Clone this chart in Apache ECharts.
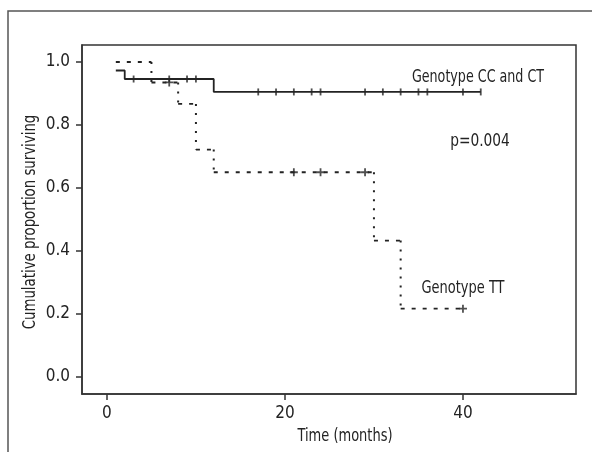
<!DOCTYPE html>
<html>
<head>
<meta charset="utf-8">
<script src="https://cdn.jsdelivr.net/npm/echarts@6/dist/echarts.min.js"></script>
<style>
  html, body { margin: 0; padding: 0; background: #fff; }
  #chart { width: 592px; height: 452px; }
</style>
</head>
<body>
<div id="chart"></div>
<script>
// ---- data ----
const xTicks = [0, 20, 40];
const yTicks = [0.0, 0.2, 0.4, 0.6, 0.8, 1.0];

// Genotype CC and CT (solid): step change points (time, survival)
const ccTimes = [1, 2, 12];
const ccSurv = [0.973, 0.946, 0.905];
const ccEnd = 42;
const ccCensored = [3, 7, 9, 10, 17, 19, 21, 23, 24, 29, 31, 33, 35, 36, 40, 42];

// Genotype TT (dashed): step change points (time, survival)
const ttTimes = [1, 5, 8, 10, 12, 30, 33];
const ttSurv = [1.0, 0.935, 0.867, 0.722, 0.65, 0.433, 0.217];
const ttEnd = 40;
const ttCensored = [7, 21, 24, 29, 40];

const labelCC = 'Genotype CC and CT';
const labelTT = 'Genotype TT';
const labelP = 'p=0.004';
const xTitle = 'Time (months)';
const yTitle = 'Cumulative proportion surviving';

// ---- helpers building series data from the arrays ----
function survAt(times, surv, t) {
  let v = surv[0];
  for (let i = 0; i < times.length; i++) if (times[i] <= t) v = surv[i];
  return v;
}
function stepPoints(times, surv, end) {
  const pts = times.map((t, i) => [t, surv[i]]);
  pts.push([end, surv[surv.length - 1]]);
  return pts;
}
function horizSegs(times, surv, end) {
  const out = [];
  for (let i = 0; i < times.length; i++) {
    const t1 = i + 1 < times.length ? times[i + 1] : end;
    out.push([times[i], surv[i]], [t1, surv[i]], [t1, '-']);
  }
  return out;
}
function vertSegs(times, surv) {
  const out = [];
  for (let i = 0; i + 1 < times.length; i++) {
    out.push([times[i + 1], surv[i]], [times[i + 1], surv[i + 1]], [times[i + 1], '-']);
  }
  return out;
}
function censorPts(list, times, surv) {
  return list.map(t => [t, survAt(times, surv, t)]);
}

const FONT = "'Liberation Sans Narrow', 'DejaVu Sans Condensed', 'Noto Sans', sans-serif";
const INK = '#232323';

const chart = echarts.init(document.getElementById('chart'), null, { renderer: 'canvas' });

function txt(text, x, y, sx, rot) {
  return {
    type: 'text', x: x, y: y, scaleX: sx, rotation: rot || 0,
    style: { text: text, font: '17px ' + FONT, fill: INK, textAlign: 'center', textVerticalAlign: 'middle' }
  };
}

chart.setOption({
  animation: false,
  backgroundColor: '#ffffff',
  textStyle: { fontFamily: FONT, color: INK },
  grid: {
    left: 82, right: 16, top: 45, bottom: 58,
    show: true, borderColor: '#333', borderWidth: 1.5, backgroundColor: 'transparent'
  },
  xAxis: {
    type: 'value', min: -2.8, max: 52.7,
    splitLine: { show: false },
    axisLine: { show: true, onZero: false, lineStyle: { color: '#333', width: 1.5 } },
    axisTick: { show: true, customValues: xTicks, length: 6, lineStyle: { color: '#333', width: 1.5 } },
    axisLabel: { customValues: xTicks, margin: 11, fontSize: 17, fontFamily: FONT, color: INK }
  },
  yAxis: {
    type: 'value', min: -0.054, max: 1.054,
    splitLine: { show: false },
    axisLine: { show: true, onZero: false, lineStyle: { color: '#333', width: 1.5 } },
    axisTick: { show: true, customValues: yTicks, length: 6, lineStyle: { color: '#333', width: 1.5 } },
    axisLabel: {
      customValues: yTicks, margin: 12, fontSize: 17, fontFamily: FONT, color: INK,
      formatter: v => Number(v).toFixed(1)
    }
  },
  series: [
    {
      name: labelCC, type: 'line', step: 'end', symbol: 'none',
      data: stepPoints(ccTimes, ccSurv, ccEnd),
      lineStyle: { color: INK, width: 1.8 }
    },
    {
      name: labelCC + ' censored', type: 'scatter', symbol: 'rect', symbolSize: [1.8, 7],
      data: censorPts(ccCensored, ccTimes, ccSurv),
      itemStyle: { color: INK }
    },
    {
      name: labelTT, type: 'line', symbol: 'none', connectNulls: false,
      data: horizSegs(ttTimes, ttSurv, ttEnd),
      lineStyle: { color: INK, width: 1.8, type: [4, 7] }
    },
    {
      name: labelTT + ' drops', type: 'line', symbol: 'none', connectNulls: false,
      data: vertSegs(ttTimes, ttSurv),
      lineStyle: { color: INK, width: 2, type: [2, 7] }
    },
    {
      name: labelTT + ' censored', type: 'scatter',
      symbol: 'path://M3.5,0H5.5V3.5H9V5.5H5.5V9H3.5V5.5H0V3.5H3.5Z', symbolSize: 8,
      data: censorPts(ttCensored, ttTimes, ttSurv),
      itemStyle: { color: INK }
    }
  ],
  graphic: [
    {
      type: 'polyline', silent: true,
      shape: { points: [[8, 452], [8, 11], [592, 11]] },
      style: { stroke: '#555', lineWidth: 1.5, fill: null }
    },
    txt(labelCC, 478, 78, 0.83),
    txt(labelP, 480, 142, 0.9),
    txt(labelTT, 463, 289, 0.85),
    txt(xTitle, 345, 437, 0.85),
    txt(yTitle, 31, 222, 0.87, Math.PI / 2)
  ]
});
</script>
</body>
</html>
